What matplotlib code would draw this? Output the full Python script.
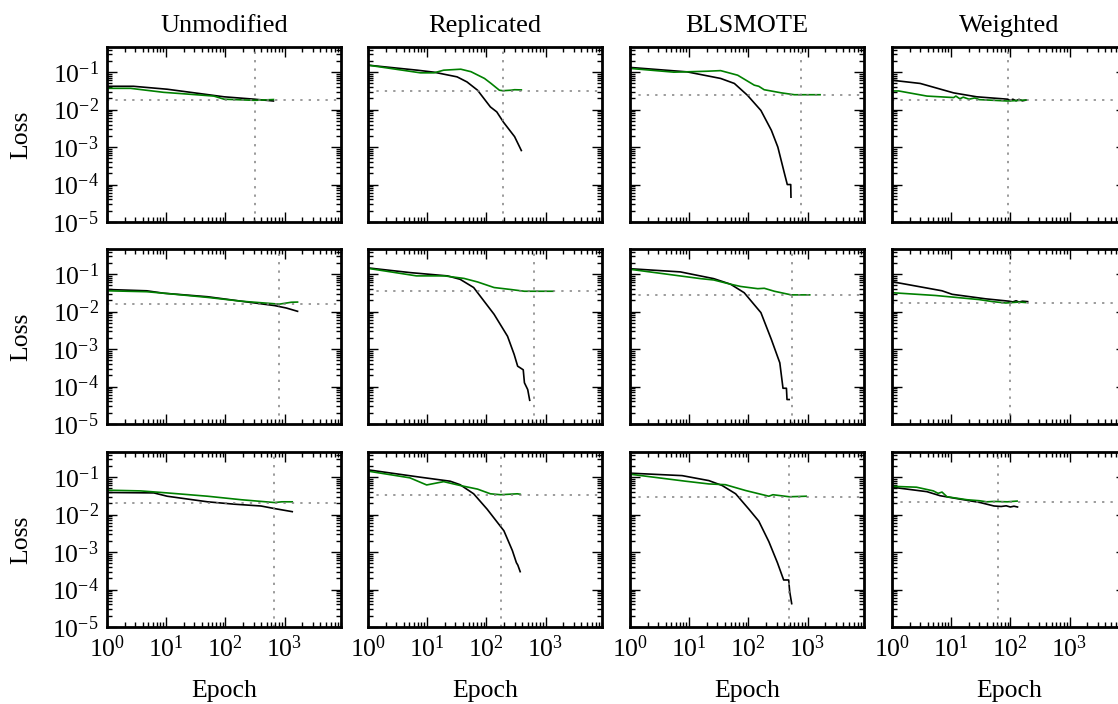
import numpy as np
import matplotlib
matplotlib.use("Agg")
import matplotlib.pyplot as plt
from matplotlib.ticker import LogLocator, NullFormatter

plt.rcParams['font.family'] = ['Liberation Serif', 'DejaVu Serif']
plt.rcParams['mathtext.fontset'] = 'custom'
plt.rcParams['mathtext.rm'] = 'Liberation Serif'
plt.rcParams['mathtext.it'] = 'Liberation Serif:italic'
plt.rcParams['font.size'] = 18.5

methods = ["Unmodified", "Replicated", "BLSMOTE", "Weighted"]

# (epoch, loss) pairs; black = train, green = validation
# run 1
unmod1_train = [(1, 0.042), (2.8, 0.042), (10.5, 0.035), (95, 0.022), (310, 0.019), (650, 0.017)]
unmod1_val = [(1, 0.037), (2.5, 0.037), (9, 0.029), (23, 0.026), (64, 0.023), (95, 0.019),
              (310, 0.0177), (650, 0.0186)]
repl1_train = [(1, 0.154), (6.8, 0.113), (13, 0.1), (32, 0.075), (47, 0.055), (71, 0.033),
               (117, 0.0118), (150, 0.0087), (195, 0.0046), (300, 0.0019), (390, 0.00081)]
repl1_val = [(1, 0.154), (7.7, 0.096), (13, 0.096), (19, 0.113), (37, 0.12), (55, 0.103),
             (93, 0.068), (120, 0.05), (166, 0.033), (190, 0.032), (262, 0.033), (300, 0.034), (390, 0.0336)]
blsm1_train = [(1, 0.134), (9.2, 0.102), (34, 0.068), (58, 0.05), (97, 0.024), (163, 0.0095),
               (245, 0.0028), (315, 0.001), (410, 0.00019), (455, 1e-4), (520, 1e-4), (525, 4.6e-5)]
blsm1_val = [(1, 0.126), (5.5, 0.1), (20, 0.106), (34, 0.11), (66, 0.083), (126, 0.045),
             (150, 0.042), (185, 0.034), (363, 0.028), (600, 0.025), (1630, 0.025)]
wtd1_train = [(1, 0.061), (3, 0.05), (11, 0.028), (27, 0.022), (90, 0.019), (100, 0.0175),
              (110, 0.019), (125, 0.0172), (140, 0.0188), (160, 0.0172), (185, 0.018)]
wtd1_val = [(1, 0.0315), (1.3, 0.0315), (3.9, 0.023), (11, 0.021), (12, 0.023), (14, 0.0195),
            (16, 0.0215), (20, 0.019), (25, 0.0205), (30, 0.0185), (90, 0.017), (185, 0.018)]

# run 2
unmod2_train = [(1, 0.039), (4.7, 0.036), (9.1, 0.031), (50, 0.025), (185, 0.019), (680, 0.0145),
                (1070, 0.0125), (1660, 0.0102)]
unmod2_val = [(1, 0.036), (4.7, 0.034), (9.1, 0.031), (50, 0.024), (185, 0.019), (680, 0.0162),
              (810, 0.0158), (1300, 0.0178), (1660, 0.018)]
repl2_train = [(1, 0.147), (5.2, 0.11), (22, 0.09), (36, 0.073), (61, 0.044), (135, 0.0085),
               (228, 0.0022), (295, 0.00072), (338, 0.00035), (420, 0.00028), (440, 0.000126),
               (500, 8.3e-5), (540, 4.3e-5)]
repl2_val = [(1, 0.143), (6.6, 0.09), (19.5, 0.09), (42, 0.077), (71, 0.062), (135, 0.044),
             (258, 0.039), (440, 0.035), (660, 0.035), (1340, 0.035)]
blsm2_train = [(1, 0.14), (7.1, 0.115), (26, 0.076), (50, 0.054), (85, 0.032), (163, 0.0094),
               (245, 0.0018), (340, 0.00043), (385, 9e-5), (440, 9e-5), (450, 4.5e-5), (490, 4.5e-5)]
blsm2_val = [(1, 0.135), (15.6, 0.076), (26, 0.07), (50, 0.054), (74, 0.047), (144, 0.041),
             (186, 0.042), (275, 0.035), (530, 0.028), (1090, 0.028)]
wtd2_train = [(1, 0.063), (7, 0.036), (10.4, 0.029), (38, 0.022), (95, 0.019), (110, 0.0182),
              (125, 0.0195), (140, 0.018), (160, 0.019), (196, 0.0185)]
wtd2_val = [(1, 0.032), (5.4, 0.027), (29.5, 0.021), (50, 0.0185), (84, 0.017), (140, 0.018), (180, 0.0175)]

# run 3
unmod3_train = [(1, 0.039), (6.2, 0.038), (10.4, 0.031), (50, 0.022), (142, 0.019), (400, 0.017),
                (680, 0.0145), (1350, 0.012)]
unmod3_val = [(1, 0.045), (3.7, 0.043), (10.4, 0.038), (50, 0.031), (185, 0.025), (680, 0.021),
              (900, 0.022), (1350, 0.022)]
repl3_train = [(1, 0.157), (7.6, 0.1), (24.5, 0.078), (36, 0.063), (61, 0.036), (103, 0.014),
               (198, 0.0037), (275, 0.0011), (322, 0.00052), (340, 0.00045), (373, 0.0003)]
repl3_val = [(1, 0.145), (5.1, 0.096), (9.8, 0.062), (19, 0.076), (36, 0.06), (71, 0.048),
             (117, 0.036), (173, 0.034), (335, 0.036), (373, 0.035)]
blsm3_train = [(1, 0.128), (7.6, 0.11), (21.5, 0.081), (36, 0.06), (61, 0.036), (102, 0.014),
               (150, 0.0067), (222, 0.0019), (310, 0.00052), (395, 0.00018), (480, 0.00018),
               (500, 8.7e-5), (540, 4.2e-5)]
blsm3_val = [(1, 0.12), (8.7, 0.078), (21.5, 0.066), (41, 0.063), (90, 0.044), (222, 0.031),
             (260, 0.034), (490, 0.030), (950, 0.031)]
wtd3_train = [(1, 0.054), (3.9, 0.041), (6.5, 0.032), (14, 0.026), (31, 0.021), (53, 0.017),
              (70, 0.0165), (85, 0.0172), (100, 0.016), (115, 0.0168), (132, 0.016)]
wtd3_val = [(1, 0.057), (2.6, 0.054), (5, 0.043), (6, 0.037), (7, 0.04), (8.5, 0.030), (18.5, 0.025),
            (30, 0.0235), (40, 0.022), (53, 0.0225), (89, 0.022), (130, 0.023)]

# epoch / loss of the best validation point (dotted guides)
best_epoch = [[320, 190, 780, 90],
              [810, 650, 540, 99],
              [660, 180, 480, 62]]
best_loss = [[0.0185, 0.0315, 0.025, 0.0178],
             [0.0157, 0.035, 0.028, 0.017],
             [0.021, 0.034, 0.030, 0.0214]]

train_runs = [[unmod1_train, repl1_train, blsm1_train, wtd1_train],
              [unmod2_train, repl2_train, blsm2_train, wtd2_train],
              [unmod3_train, repl3_train, blsm3_train, wtd3_train]]
val_runs = [[unmod1_val, repl1_val, blsm1_val, wtd1_val],
            [unmod2_val, repl2_val, blsm2_val, wtd2_val],
            [unmod3_val, repl3_val, blsm3_val, wtd3_val]]

W, H = 1118, 704
fig = plt.figure(figsize=(W / 100, H / 100), dpi=100)

lefts = [107, 368, 630, 892]
tops = [47, 249, 452]
aw, ah = 234, 175

for r in range(3):
    for c in range(4):
        ax = fig.add_axes([lefts[c] / W, 1 - (tops[r] + ah) / H, aw / W, ah / H])
        tr = np.array(train_runs[r][c])
        va = np.array(val_runs[r][c])
        ax.plot(tr[:, 0], tr[:, 1], color='black', lw=1.2)
        ax.plot(va[:, 0], va[:, 1], color='green', lw=1.2)
        ax.axvline(best_epoch[r][c], color='gray', ls=(0, (1.5, 4)), lw=1.1)
        ax.axhline(best_loss[r][c], color='gray', ls=(0, (1.5, 4)), lw=1.1)
        ax.set_xscale('log')
        ax.set_yscale('log')
        ax.set_xlim(1, 9000)
        ax.set_ylim(1e-5, 0.47)
        ax.xaxis.set_major_locator(LogLocator(base=10, numticks=10))
        ax.xaxis.set_minor_locator(LogLocator(base=10, subs=np.arange(2, 10), numticks=10))
        ax.yaxis.set_major_locator(LogLocator(base=10, numticks=10))
        ax.yaxis.set_minor_locator(LogLocator(base=10, subs=np.arange(2, 10), numticks=10))
        ax.tick_params(which='both', direction='in', top=True, right=True, width=1.0)
        ax.tick_params(which='major', length=7, pad=6)
        ax.tick_params(which='minor', length=3.5)
        for s in ax.spines.values():
            s.set_linewidth(2.0)
        if c == 0:
            ax.set_ylabel('Loss')
            ax.yaxis.set_label_coords(-0.32, 0.5)
        else:
            ax.yaxis.set_major_formatter(NullFormatter())
        ax.yaxis.set_minor_formatter(NullFormatter())
        if r == 2:
            ax.set_xlabel('Epoch')
            ax.xaxis.set_label_coords(0.5, -0.30)
        else:
            ax.xaxis.set_major_formatter(NullFormatter())
        ax.xaxis.set_minor_formatter(NullFormatter())
        if r == 0:
            ax.set_title(methods[c], pad=11, fontsize=19)

fig.savefig('out.png', dpi=100)
